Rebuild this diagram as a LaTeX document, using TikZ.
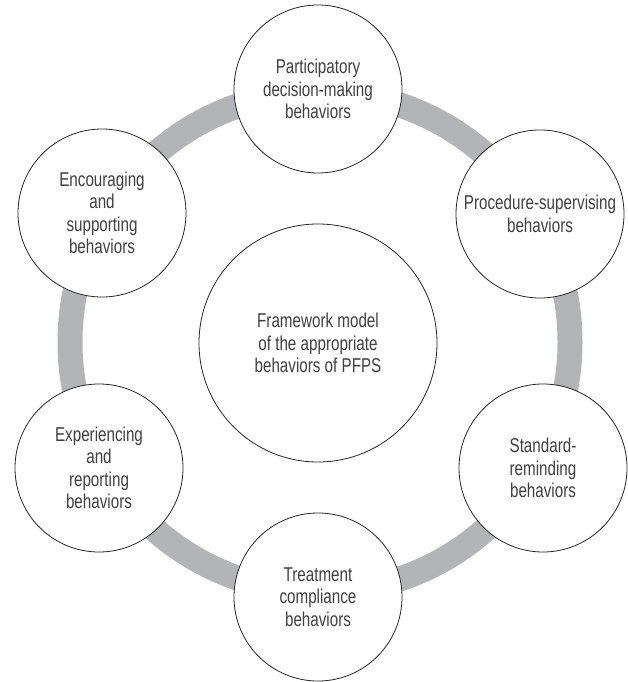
\documentclass[tikz,border=0pt]{standalone}
\usepackage{fontspec}
\newfontfamily\cfont{Liberation Sans}[FakeStretch=0.76]
\definecolor{ringgray}{HTML}{B2B4B7}
\definecolor{txtgray}{HTML}{404040}
\begin{document}
\begin{tikzpicture}[x=1pt,y=-1pt,
  circ/.style={circle, draw=black!85, line width=0.8pt, fill=white,
    minimum size=168pt, inner sep=0pt, align=center, text=txtgray,
    font=\cfont\fontsize{20}{22.5}\selectfont},
  bigcirc/.style={circ, minimum size=238pt}]
\useasboundingbox (0,0) rectangle (627,682);
\fill[white] (0,0) rectangle (627,682);
\draw[ringgray, line width=25pt] (320,342) circle[radius=250pt];
\node[bigcirc] (c) at (318,343) {Framework model\\of the appropriate\\behaviors of PFPS};
\node[circ] (t) at (318,89) {Participatory\\decision-making\\behaviors};
\node[circ] (ur) at (540,214) {Procedure-supervising\\behaviors};
\node[circ] (lr) at (543,468) {Standard-\\reminding\\behaviors};
\node[circ] (b) at (318,597) {Treatment\\compliance\\behaviors};
\node[circ] (ll) at (99,468) {Experiencing\\and\\reporting\\behaviors};
\node[circ] (ul) at (102,213) {Encouraging\\and\\supporting\\behaviors};
\end{tikzpicture}
\end{document}
